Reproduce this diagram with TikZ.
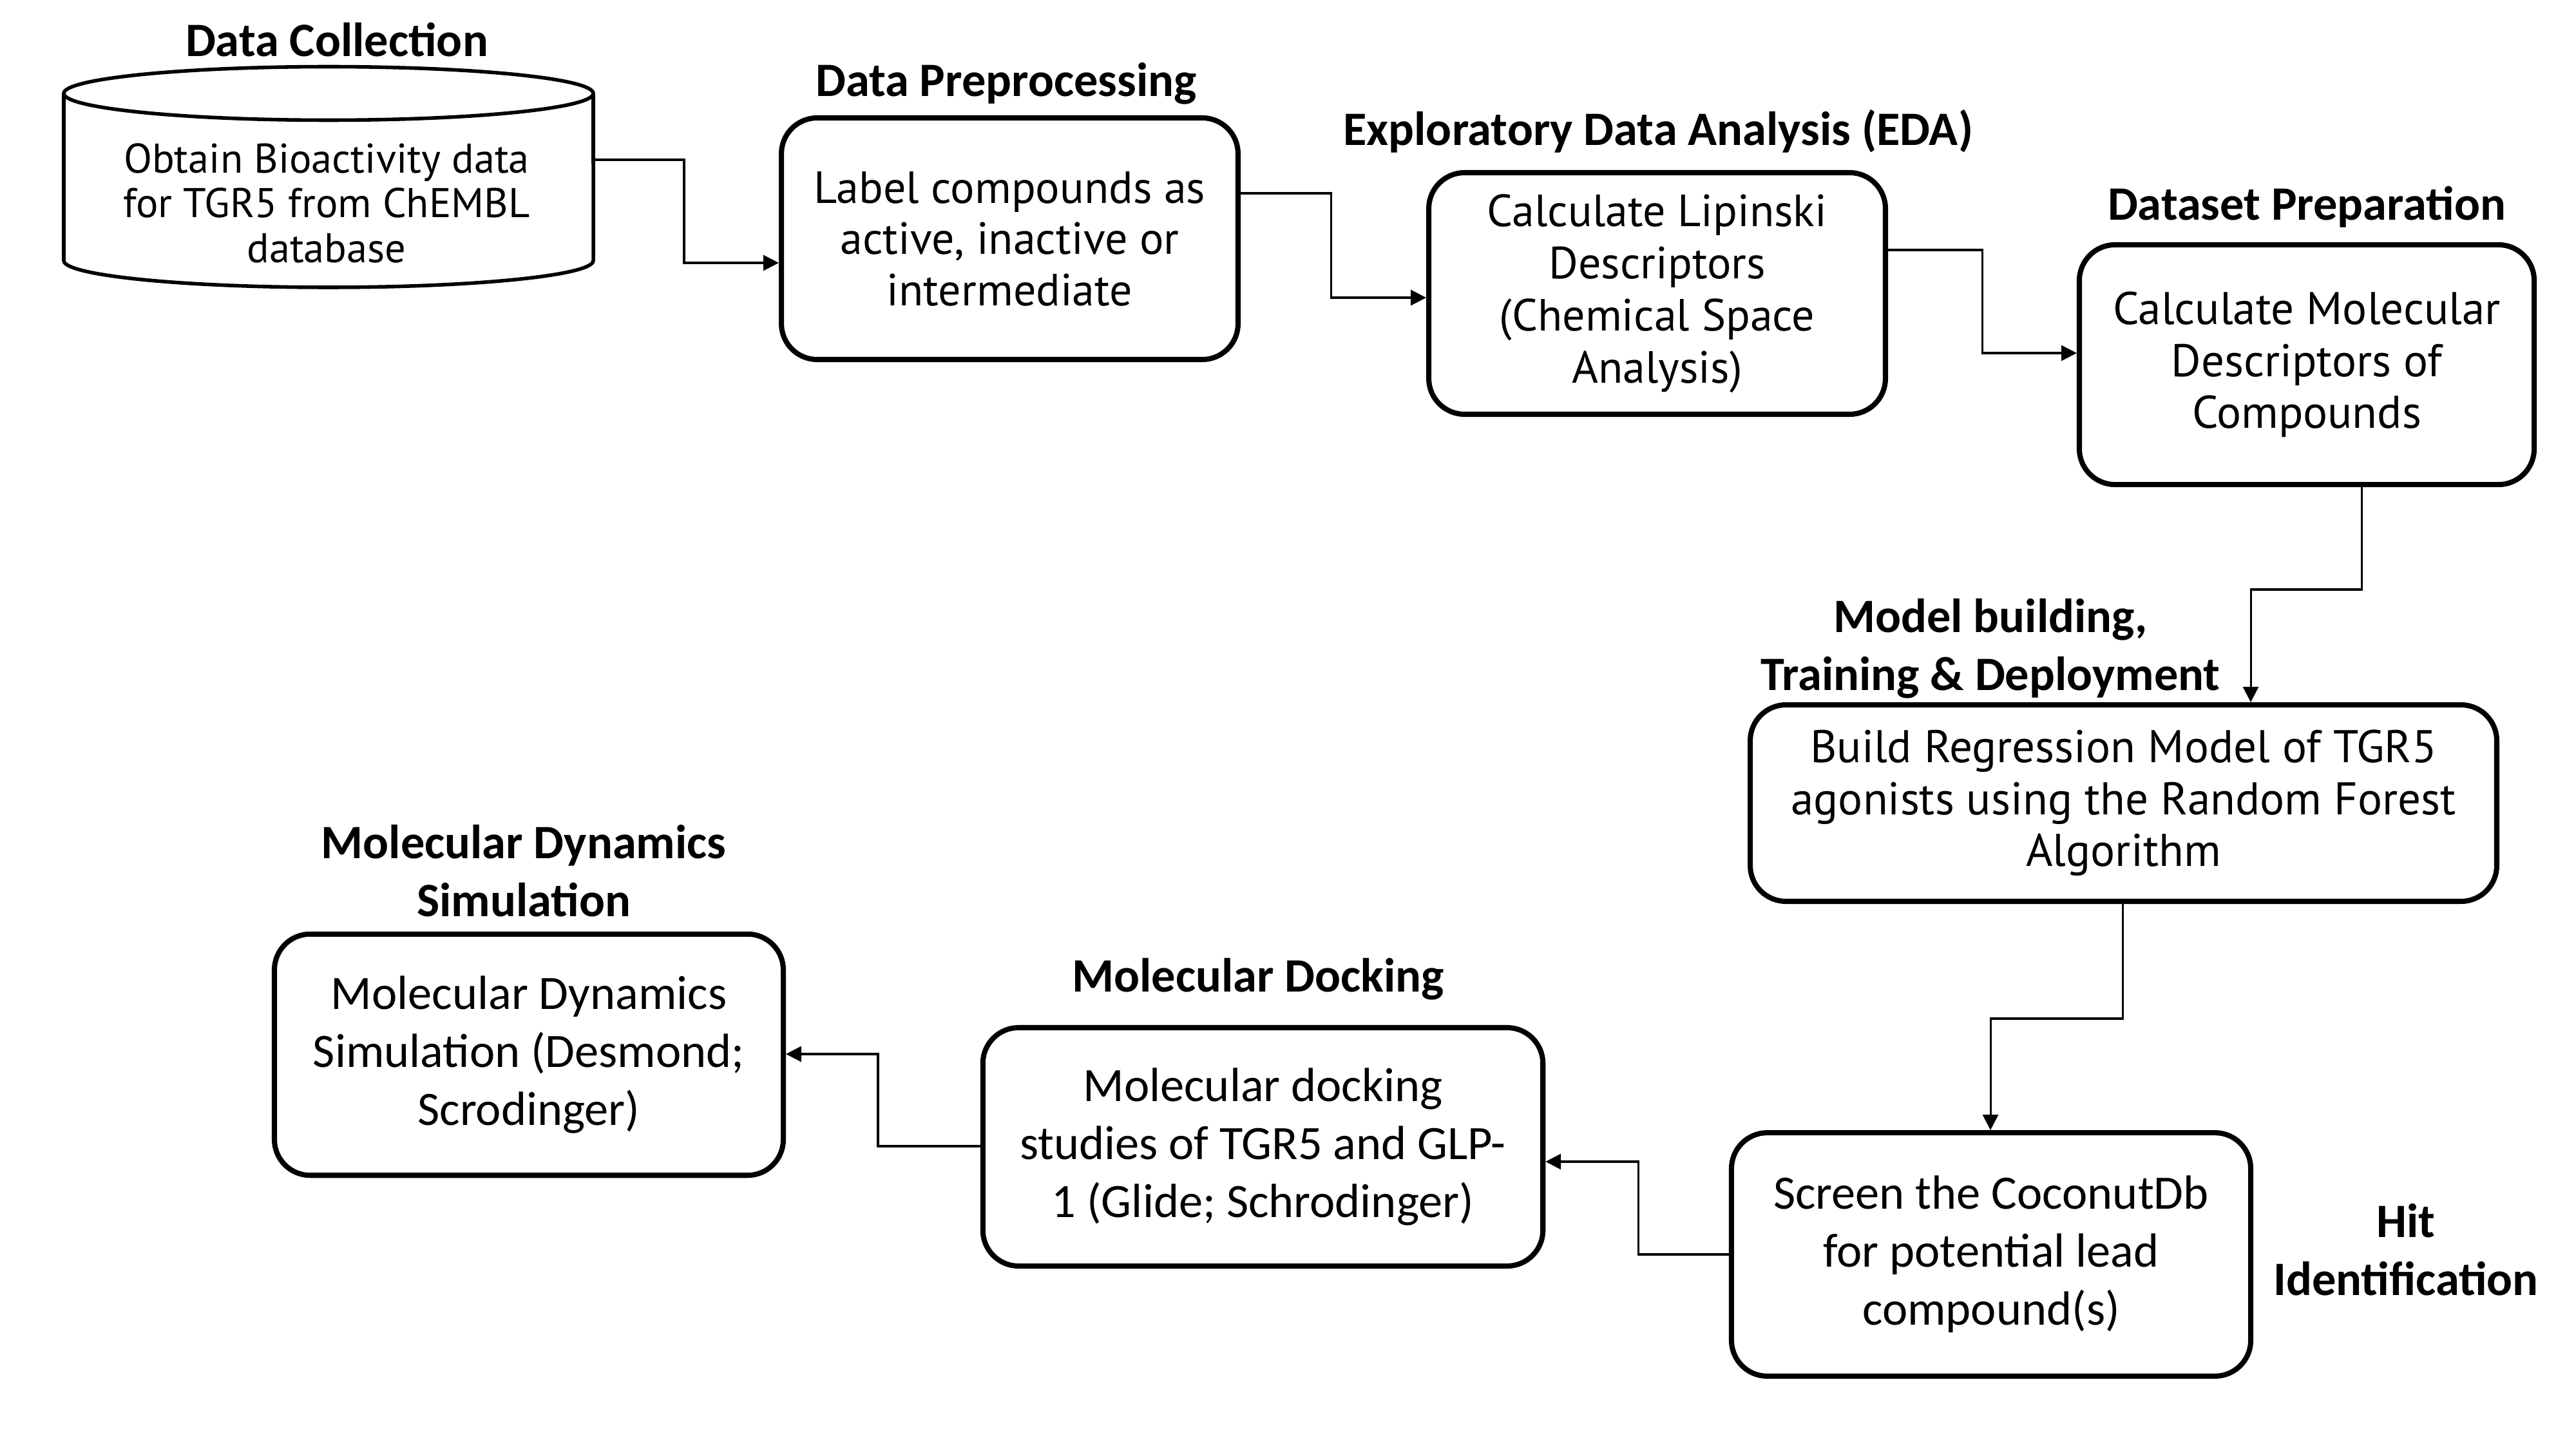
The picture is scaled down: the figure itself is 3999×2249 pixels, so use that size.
\documentclass[tikz,border=0pt]{standalone}
\usepackage{fontspec}
\setmainfont{Carlito}
\newfontfamily\comic{PT Sans}
\usetikzlibrary{arrows.meta}
\tikzset{
  rbox/.style={draw, line width=1.45pt, rounded corners=10pt, align=center, inner sep=0pt},
  ttl/.style={font=\bfseries\fontsize{13.4pt}{16.2pt}\selectfont, align=center, inner sep=0pt},
  cal/.style={font=\fontsize{13.4pt}{16.2pt}\selectfont},
  arr/.style={line width=0.55pt, -{Triangle[length=4.3pt,width=4.3pt]}},
  cyl/.style={line width=1pt},
}
\begin{document}
\begin{tikzpicture}[x=0.18pt,y=-0.18pt]
\useasboundingbox (0,0) rectangle (3999,2249);
\fill[white] (0,0) rectangle (3999,2249);

% ---- Data collection (cylinder)
\node[ttl] (tdc) at (523,62) {Data Collection};
\node[minimum width=147.96pt, minimum height=61.6pt, inner sep=0pt] (dc) at (510,275) {};
\draw[cyl] (510,145) ellipse[x radius=73.98pt, y radius=7.47pt];
\draw[cyl] (99,145) -- (99,404.5) arc[start angle=180, end angle=360, x radius=73.98pt, y radius=7.47pt] -- (921,145);
\node[align=center, inner sep=0pt, font=\comic\fontsize{11.6pt}{12.5pt}\selectfont] (dct) at (507,315)
  {Obtain Bioactivity data\\for TGR5 from ChEMBL\\database};

% ---- Data preprocessing
\node[ttl] (tdp) at (1562,130) {Data Preprocessing};
\node[rbox, minimum width=127.6pt, minimum height=67.5pt, font=\comic\fontsize{12.6pt}{14.3pt}\selectfont] (dp) at (1567.5,370.5)
  {Label compounds as\\active, inactive or\\intermediate};

% ---- EDA
\node[ttl] (teda) at (2574,204) {Exploratory Data Analysis (EDA)};
\node[rbox, minimum width=127.6pt, minimum height=67.5pt, font=\comic\fontsize{12.6pt}{14.6pt}\selectfont] (eda) at (2572.5,455.5)
  {Calculate Lipinski\\Descriptors\\(Chemical Space\\Analysis)};

% ---- Dataset preparation
\node[ttl] (tds) at (3581,321) {Dataset Preparation};
\node[rbox, minimum width=127.1pt, minimum height=67pt, font=\comic\fontsize{12.8pt}{14.5pt}\selectfont] (ds) at (3581,566)
  {Calculate Molecular\\Descriptors of\\Compounds};

% ---- Model building
\node[ttl] (tmb) at (3090,1007) {Model building,\\Training \& Deployment};
\node[rbox, minimum width=208.6pt, minimum height=54.9pt, font=\comic\fontsize{12.8pt}{14.5pt}\selectfont] (mb) at (3296.5,1246.5)
  {Build Regression Model of TGR5\\agonists using the Random Forest\\Algorithm};

% ---- Hit identification
\node[ttl] (thi) at (3735,1940) {Hit\\Identification};
\node[rbox, cal, minimum width=145.1pt, minimum height=68pt] (hi) at (3091,1947)
  {Screen the CoconutDb\\for potential lead\\compound(s)};

% ---- Molecular docking
\node[ttl] (tmd) at (1953,1520) {Molecular Docking};
\node[rbox, cal, minimum width=156.5pt, minimum height=66.6pt] (md) at (1960.5,1780)
  {Molecular docking\\studies of TGR5 and GLP-\\1 (Glide; Schrodinger)};

% ---- Molecular dynamics
\node[ttl] (tmds) at (813,1352) {Molecular Dynamics\\Simulation};
\node[rbox, cal, minimum width=142.2pt, minimum height=67.4pt] (mds) at (821,1637)
  {Molecular Dynamics\\Simulation (Desmond;\\Scrodinger)};

% ---- connectors
\coordinate (c1a) at (1062,248); \coordinate (c1b) at (1062,408);
\draw[arr] (dc.east |- c1a) -- (c1a) -- (c1b) -- (dp.west |- c1b);
\coordinate (c2a) at (2066,300); \coordinate (c2b) at (2066,462);
\draw[arr] (dp.east |- c2a) -- (c2a) -- (c2b) -- (eda.west |- c2b);
\coordinate (c3a) at (3077,388); \coordinate (c3b) at (3077,548);
\draw[arr] (eda.east |- c3a) -- (c3a) -- (c3b) -- (ds.west |- c3b);
\coordinate (c4a) at (3666,915); \coordinate (c4b) at (3494,915);
\draw[arr] (ds.south -| c4a) -- (c4a) -- (c4b) -- (mb.north -| c4b);
\coordinate (c5a) at (3295,1581); \coordinate (c5b) at (3090,1581);
\draw[arr] (mb.south -| c5a) -- (c5a) -- (c5b) -- (hi.north -| c5b);
\coordinate (c6a) at (2543,1947); \coordinate (c6b) at (2543,1803);
\draw[arr] (hi.west |- c6a) -- (c6a) -- (c6b) -- (md.east |- c6b);
\coordinate (c7a) at (1363,1779); \coordinate (c7b) at (1363,1636);
\draw[arr] (md.west |- c7a) -- (c7a) -- (c7b) -- (mds.east |- c7b);
\end{tikzpicture}
\end{document}
